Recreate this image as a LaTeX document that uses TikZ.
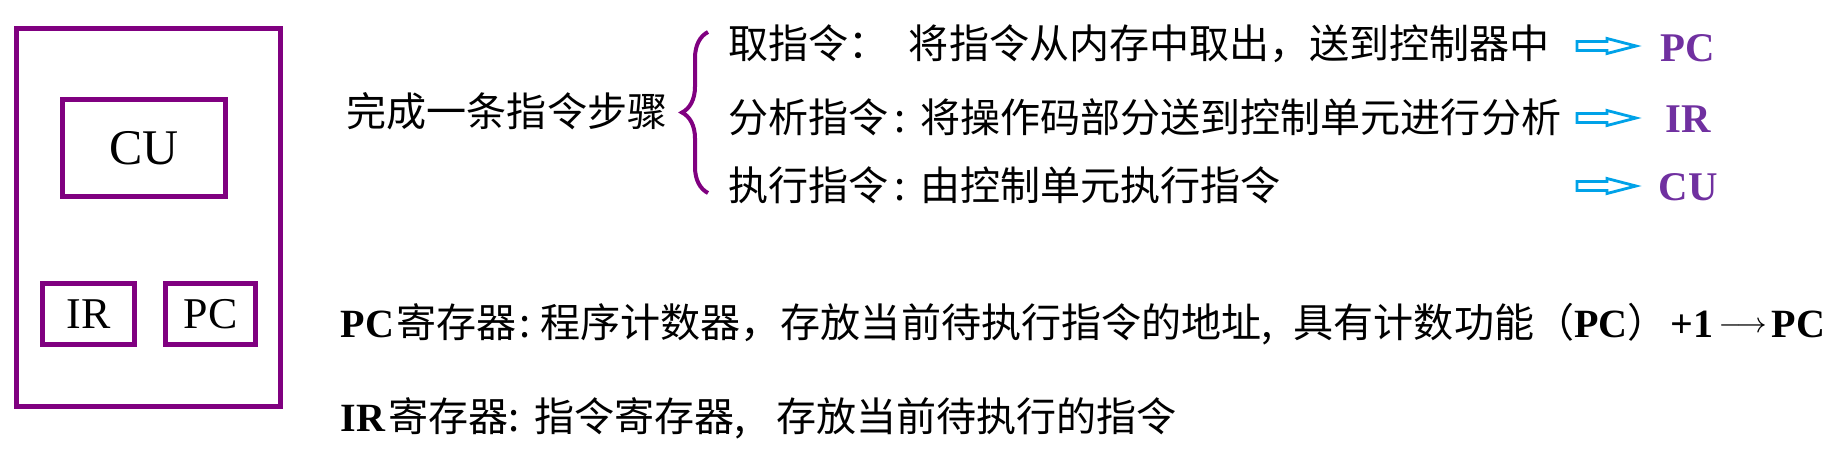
\documentclass[tikz,border=0pt]{standalone}
\usepackage{fontspec}
\setmainfont{Liberation Serif}
\newfontfamily\cjk{Noto Sans CJK SC}
\usetikzlibrary{decorations.pathreplacing}
\definecolor{boxpurple}{RGB}{128,0,128}
\definecolor{labpurple}{RGB}{112,48,160}
\definecolor{arrowblue}{RGB}{0,162,232}
\newcommand\bt[1]{{\rmfamily\bfseries #1}}
\newcommand\incarrow{\raisebox{.5mm}{\fontsize{8}{9}\selectfont$\longrightarrow$}}
\begin{document}
\begin{tikzpicture}[x=.1mm,y=-.1mm,
    txt/.style={inner sep=0pt,anchor=base west,font=\cjk\fontsize{11.4}{13}\selectfont},
    lab/.style={inner sep=0pt,anchor=base,text=labpurple,font=\bfseries\fontsize{11.6}{13}\selectfont},
    reg/.style={draw=boxpurple,line width=.5mm},
    hollow/.style={draw=arrowblue,line width=.28mm,line join=miter}]
    \useasboundingbox (0,0) rectangle (1844,470);
    % CPU with its registers
    \draw[reg] (16.5,28.5) rectangle (280,406);
    \draw[reg] (62.5,99.5) rectangle ++(163,97)
          node[midway,font=\fontsize{14.2}{16}\selectfont] (cu) {CU};
    \draw[reg] (42.5,283.5) rectangle ++(92,61)
          node[midway,font=\fontsize{12.5}{14}\selectfont] (ir) {IR} % instruction register
          (165.5,283.5) rectangle ++(90,61)
          node[midway,font=\fontsize{12.5}{14}\selectfont] (pc) {PC}; % program counter
    % the three steps
    \node[txt] (steps) at (346,126) {完成一条指令步骤};
    \coordinate (bbot) at (708,193);
    \coordinate (btop) at (708,32);
    \draw[boxpurple,line width=.4mm,decorate,decoration={brace,amplitude=2.6mm}] (bbot) -- (btop);
    \node[txt] (fetch) at (728,58) {取指令：\hspace{2mm}将指令从内存中取出，送到控制器中};
    \node[txt] (decode) at (728,132) {分析指令\hspace{.6mm}:\hspace{1.4mm}将操作码部分送到控制单元进行分析};
    \node[txt] (exec) at (728,200) {执行指令\hspace{.6mm}:\hspace{1.4mm}由控制单元执行指令};
    \node[lab] (tpc) at (1688,61) {PC};
    \node[lab] (tir) at (1688,132) {IR};
    \node[lab] (tcu) at (1688,200) {CU};
    \foreach \y/\n in {46/pc,118/ir,186/cu}{
        \coordinate (a\n) at (1577,\y);
        \draw[hollow] (a\n) ++(0,-4.5) -- ++(30,0) -- ++(0,-3) -- ++(29,7.5)
              -- ++(-29,7.5) -- ++(0,-3) -- ++(-30,0) -- cycle; % hollow arrow
    }
    % the two registers
    \node[txt] (pcreg) at (340,337) {\bt{PC}\hspace{.2mm}寄存器\hspace{.3mm}:\hspace{1mm}程序计数器，存放当前待执行指令的地址,\hspace{2.1mm}具有计数功能（\bt{PC}）\hspace{.3mm}\bt{+1}\hspace{.5mm}\incarrow\hspace{.5mm}\bt{PC}};
    \node[txt] (irreg) at (340,431) {\bt{IR}\hspace{.3mm}寄存器:\hspace{1.5mm}指令寄存器,\hspace{3mm}存放当前待执行的指令};
\end{tikzpicture}
\end{document}
